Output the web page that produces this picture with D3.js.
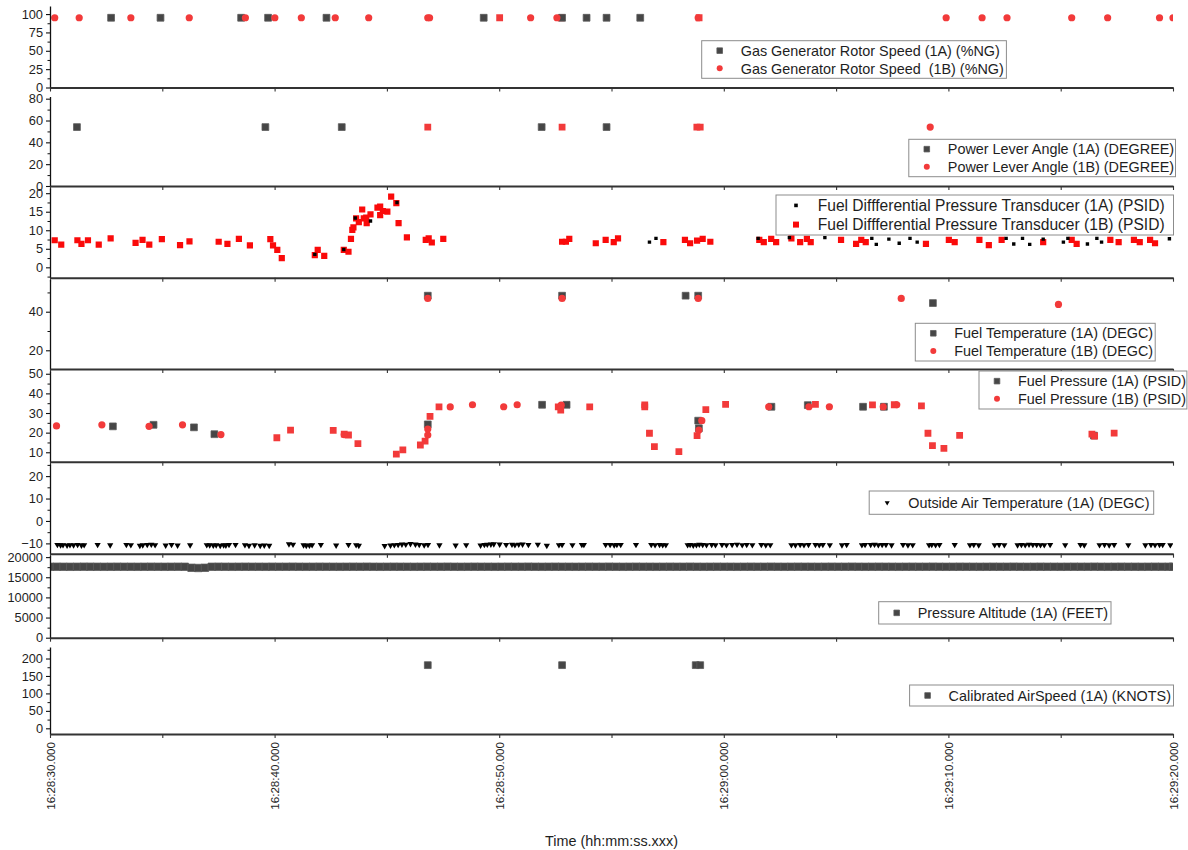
<!DOCTYPE html>
<html>
<head>
<meta charset="utf-8">
<script src="https://cdn.jsdelivr.net/npm/d3@7"></script>
<style>
  body { margin: 0; background: #fff; }
  svg text { font-family: "Liberation Sans", Arial, sans-serif; fill: #1e1e1e; }
</style>
</head>
<body>
<svg id="chart" width="1188" height="850"></svg>
<script>
// all times are seconds after 16:28:30.000
const ng1A = [[2.72,95],[4.92,95],[8.51,95],[9.71,95],[12.31,95],[19.31,95],[22.80,95],[23.89,95],[24.78,95],[26.28,95]];
const ng1B = [[0.21,95],[1.30,95],[3.60,95],[6.20,95],[8.70,95],[10.01,95],[11.19,95],[12.70,95],[14.19,95],[16.82,95],
  [16.90,95],[21.40,95],[22.57,95],[28.86,95],[39.90,95],[41.50,95],[42.61,95],[45.49,95],[47.09,95],[49.40,95],[50.0,95]];
const ng1BSquare = [[20.02,95],[22.76,95],[28.90,95]];

const pla1A = [[1.20,54],[9.59,54],[12.99,54],[21.89,54],[24.78,54]];
const pla1B = [[39.19,54]];
const pla1BSquare = [[16.82,54],[22.80,54],[28.80,54],[28.95,54]];

const fdp1A = [[11.79,3.5],[13.08,4.8],[13.59,13.3],[14.27,12.5],[15.45,17.5],[26.69,6.8],[26.98,7.8],[31.53,7.8],[32.92,8.0],[34.50,8.0],
  [36.59,7.8],[36.79,6.2],[37.35,7.6],[37.81,6.5],[38.29,7.8],[38.61,6.8],[42.57,7.8],[42.91,6.3],[43.30,7.8],[43.62,6.2],
  [44.22,7.6],[45.12,6.8],[45.32,7.8],[46.19,6.3],[46.61,7.8],[46.82,6.8],[49.84,7.7]];
const fdp1B = [[0.21,7.3],[0.50,6.1],[1.22,7.3],[1.40,6.3],[1.69,7.3],[2.17,6.1],[2.70,7.8],[3.81,6.6],[4.12,7.4],[4.42,6.1],
  [4.98,7.6],[5.79,6.0],[6.21,7.0],[7.51,6.9],[7.90,6.3],[8.41,7.7],[8.90,5.9],[9.81,7.6],[9.93,5.9],[10.12,4.7],
  [10.32,2.5],[11.79,3.3],[11.92,4.7],[12.21,3.1],[13.08,4.7],[13.29,4.2],[13.40,7.7],[13.46,10.1],[13.51,10.8],[13.63,13.2],
  [13.75,12.2],[13.90,15.6],[13.97,13.2],[14.08,13.4],[14.10,11.9],[14.27,14.3],[14.58,16.1],[14.70,14.1],[14.70,16.4],[14.82,15.2],
  [15.02,15.0],[15.19,19.1],[15.42,17.3],[15.52,11.9],[15.89,8.1],[16.73,7.4],[16.86,7.8],[17.00,6.7],[17.51,7.7],
  [22.80,6.9],[22.97,6.9],[23.12,7.7],[24.30,6.5],[24.74,7.4],[25.10,6.8],[25.29,7.8],[27.31,6.8],[28.27,7.4],[28.50,6.5],
  [28.81,7.2],[29.06,7.7],[29.40,6.9],[31.58,7.4],[31.78,6.8],[32.11,7.7],[32.33,6.8],[33.01,7.8],[33.40,6.8],[33.70,7.7],
  [33.87,6.8],[35.22,7.4],[35.89,6.3],[36.12,7.4],[36.32,6.8],[39.00,6.3],[40.02,7.4],[40.28,6.8],[41.38,7.4],[41.80,6.0],
  [42.37,7.4],[44.22,6.8],[45.49,7.4],[45.71,6.3],[47.21,7.4],[47.58,6.8],[48.26,7.4],[48.52,6.8],[48.98,7.4],[49.20,6.5]];

const ft1A = [[16.82,48.3],[22.80,48.3],[28.30,48.3],[28.86,48.3],[39.31,44.5]];
const ft1B = [[16.82,46.9],[22.80,46.9],[28.86,46.9],[37.90,46.9],[44.90,43.8]];

const fp1A = [[2.80,23.2],[4.61,24.0],[6.41,22.7],[7.32,19.2],[16.82,24.2],[21.91,34.2],[23.00,34.2],[28.86,26.1],[28.89,22.2],
  [32.12,33.2],[33.74,34.0],[36.20,33.2],[37.13,33.2],[46.48,18.5]];
const fp1B = [[0.29,23.4],[2.31,24.0],[4.41,23.2],[5.90,24.0],[7.61,19.0],[13.10,19.0],[16.82,18.8],[16.82,21.8],[17.82,33.1],[18.81,34.2],
  [20.20,33.2],[20.80,34.2],[22.76,34.0],[28.89,21.3],[29.02,26.1],[32.00,33.2],[33.79,33.2],[34.70,33.2],[37.10,33.2],[37.70,34.2]];
const fp1BSquare = [[10.10,17.4],[10.71,21.3],[12.61,21.2],[13.10,19.2],[13.29,18.8],[13.71,14.4],[15.42,9.1],[15.71,11.2],[16.49,13.7],[16.70,15.7],
  [16.92,28.3],[17.32,33.1],[22.63,33.1],[22.74,31.5],[24.03,33.1],[26.48,34.1],[26.48,33.1],[26.69,19.7],[26.91,12.9],[28.00,10.3],
  [28.81,18.5],[29.20,31.7],[30.08,34.4],[34.08,34.4],[36.62,34.1],[37.59,34.2],[38.80,33.6],[39.09,19.7],[39.29,13.4],[39.80,12.0],
  [40.50,18.6],[46.39,19.2],[46.51,18.3],[47.38,19.8]];

const oat1A = [[0.33,-10.6],[0.47,-10.8],[0.58,-10.7],[0.76,-10.9],[0.89,-10.7],[1.05,-10.8],[1.23,-10.6],[1.40,-10.9],[1.52,-10.7],[2.12,-10.6],
  [2.68,-10.8],[3.40,-10.6],[3.60,-10.7],[4.00,-11.0],[4.13,-10.8],[4.33,-10.6],[4.51,-10.5],[4.68,-10.7],[5.15,-10.9],[5.41,-10.6],
  [5.68,-10.9],[6.24,-10.8],[6.98,-10.7],[7.11,-10.8],[7.27,-10.9],[7.40,-10.8],[7.58,-11.0],[7.73,-10.8],[7.83,-10.9],[7.97,-10.6],
  [8.26,-10.6],[8.68,-10.7],[8.86,-11.0],[9.11,-10.8],[9.36,-11.0],[9.54,-10.9],[9.76,-11.0],[10.64,-10.3],[10.82,-10.5],[11.29,-10.8],
  [11.41,-11.0],[11.55,-10.9],[11.67,-10.7],[12.06,-10.6],[12.74,-10.9],[13.29,-10.6],[13.63,-10.7],[13.75,-11.0],[14.90,-11.1],[15.16,-10.9],
  [15.33,-10.7],[15.50,-10.6],[15.67,-10.4],[15.84,-10.5],[16.05,-10.2],[16.27,-10.4],[16.44,-10.6],[16.66,-10.8],[16.83,-10.6],[17.34,-10.8],
  [18.06,-10.9],[18.53,-10.7],[19.17,-10.9],[19.34,-10.6],[19.47,-10.5],[19.63,-10.4],[19.76,-10.3],[20.02,-10.4],[20.31,-10.6],[20.57,-10.5],
  [20.70,-10.7],[20.87,-10.5],[21.04,-10.4],[21.30,-10.6],[21.72,-10.5],[22.12,-11.0],[22.66,-10.7],[22.80,-10.6],[23.26,-10.7],[23.68,-10.6],
  [23.77,-10.6],[24.74,-10.6],[24.94,-10.6],[25.12,-10.8],[25.24,-10.6],[25.41,-10.6],[26.09,-10.6],[26.77,-10.6],[26.94,-10.7],[27.14,-10.6],
  [27.28,-10.7],[27.42,-10.7],[28.39,-10.7],[28.50,-10.6],[28.64,-10.9],[28.78,-10.7],[28.91,-10.5],[29.06,-10.6],[29.23,-10.7],[29.46,-10.6],
  [29.63,-10.7],[29.92,-10.6],[30.12,-10.7],[30.37,-10.6],[30.59,-10.5],[30.82,-10.7],[31.02,-10.6],[31.27,-10.7],[31.67,-10.6],[31.87,-10.8],
  [32.07,-10.7],[33.01,-10.7],[33.19,-10.8],[33.40,-10.6],[33.57,-10.7],[33.77,-10.6],[34.08,-10.6],[34.25,-10.7],[34.41,-10.6],[34.72,-10.7],
  [35.26,-10.8],[35.47,-10.6],[36.15,-10.7],[36.29,-10.6],[36.54,-10.6],[36.71,-10.5],[36.88,-10.7],[37.05,-10.6],[37.22,-10.6],[37.47,-10.8],
  [37.98,-10.6],[38.20,-10.8],[38.41,-10.7],[39.14,-10.7],[39.26,-10.6],[39.43,-10.7],[39.60,-10.6],[40.28,-10.6],[40.96,-10.7],[41.13,-10.6],
  [41.35,-10.8],[42.06,-10.7],[42.26,-10.6],[42.49,-10.7],[43.08,-10.8],[43.25,-10.6],[43.42,-10.7],[43.59,-10.5],[43.76,-10.6],[43.93,-10.6],
  [44.10,-10.7],[44.27,-10.7],[44.53,-10.6],[45.20,-10.7],[45.88,-10.6],[46.05,-10.8],[46.73,-10.7],[46.95,-10.6],[47.16,-10.8],[47.38,-10.6],
  [48.01,-10.7],[48.77,-10.8],[49.02,-10.6],[49.20,-10.7],[49.40,-10.6],[49.54,-10.6],[49.88,-10.7]];

const alt1A = [[0,17600],[0.3,17610],[0.6,17600],[0.9,17590],[1.2,17600],[1.5,17620],[1.8,17610],[2.1,17600],[2.4,17590],[2.7,17600],
  [3,17610],[3.3,17600],[3.6,17600],[3.9,17590],[4.2,17600],[4.5,17610],[4.8,17600],[5.1,17590],[5.4,17600],[5.7,17610],
  [6,17600],[6.3,17350],[6.6,17300],[6.9,17350],[7.2,17600],[7.5,17610],[7.8,17600],[8.1,17590],[8.4,17600],[8.7,17610],
  [9,17600],[9.3,17600],[9.6,17590],[9.9,17610],[10.2,17600],[10.5,17600],[10.8,17620],[11.1,17600],[11.4,17590],[11.7,17600],
  [12,17610],[12.3,17600],[12.6,17600],[12.9,17590],[13.2,17600],[13.5,17610],[13.8,17600],[14.1,17620],[14.4,17600],[14.7,17590],
  [15,17600],[15.3,17610],[15.6,17600],[15.9,17600],[16.2,17590],[16.5,17600],[16.8,17610],[17.1,17600],[17.4,17600],[17.7,17620],
  [18,17600],[18.3,17590],[18.6,17600],[18.9,17610],[19.2,17600],[19.5,17600],[19.8,17590],[20.1,17600],[20.4,17610],[20.7,17600],
  [21,17600],[21.3,17620],[21.6,17600],[21.9,17590],[22.2,17600],[22.5,17610],[22.8,17600],[23.1,17600],[23.4,17590],[23.7,17600],
  [24,17610],[24.3,17600],[24.6,17600],[24.9,17620],[25.2,17600],[25.5,17590],[25.8,17600],[26.1,17610],[26.4,17600],[26.7,17600],
  [27,17590],[27.3,17600],[27.6,17610],[27.9,17600],[28.2,17600],[28.5,17620],[28.8,17600],[29.1,17590],[29.4,17600],[29.7,17610],
  [30,17600],[30.3,17600],[30.6,17590],[30.9,17600],[31.2,17610],[31.5,17600],[31.8,17600],[32.1,17620],[32.4,17600],[32.7,17590],
  [33,17600],[33.3,17610],[33.6,17600],[33.9,17600],[34.2,17590],[34.5,17600],[34.8,17610],[35.1,17600],[35.4,17600],[35.7,17620],
  [36,17600],[36.3,17590],[36.6,17600],[36.9,17610],[37.2,17600],[37.5,17600],[37.8,17590],[38.1,17600],[38.4,17610],[38.7,17600],
  [39,17600],[39.3,17620],[39.6,17600],[39.9,17590],[40.2,17600],[40.5,17610],[40.8,17600],[41.1,17600],[41.4,17590],[41.7,17600],
  [42,17610],[42.3,17600],[42.6,17600],[42.9,17620],[43.2,17600],[43.5,17590],[43.8,17600],[44.1,17610],[44.4,17600],[44.7,17600],
  [45,17590],[45.3,17600],[45.6,17610],[45.9,17600],[46.2,17600],[46.5,17620],[46.8,17600],[47.1,17590],[47.4,17600],[47.7,17610],
  [48,17600],[48.3,17600],[48.6,17590],[48.9,17600],[49.2,17610],[49.5,17600],[49.8,17600],[50,17600]];

const cas1A = [[16.82,181],[22.80,181],[28.75,181],[28.95,181]];

const timeTicks = d3.range(0, 51, 5);

const GRAY = '#464646', RED = '#f23a3a', PURE_RED = '#fa0a0a';
const X0 = 50, X1 = 1173;

const x = d3.scaleLinear().domain([0, 50]).range([X0, X1]);
const clock = s => d3.timeFormat('%H:%M:%S.%L')(new Date(2020, 0, 1, 16, 28, 30 + s));

const sq = (fill, size) => ({ shape: d3.symbolSquare, size: size * size, fill, stroke: fill === GRAY ? '#5c5c5c' : 'none' });
const dot = (fill, r) => ({ shape: d3.symbolCircle, size: Math.PI * r * r, fill, stroke: 'none' });
const tri = size => ({ shape: d3.symbolTriangle, size, fill: '#000', stroke: 'none', flip: true });

const panels = [
  { top: 6, bottom: 87.5, lo: 0, hi: 111, ticks: [0, 25, 50, 75, 100], minor: 12.5,
    series: [[ng1BSquare, sq(RED, 6.8)], [ng1A, sq(GRAY, 6.8)], [ng1B, dot(RED, 3.6)]],
    legend: { x: 701.7, y: 40.7, w: 304.7, h: 37.6, font: 14.4, items: [
      ['Gas Generator Rotor Speed (1A) (%NG)', sq(GRAY, 5.6)], ['Gas Generator Rotor Speed  (1B) (%NG)', dot(RED, 3)]] } },
  { top: 96.5, bottom: 186, lo: 0, hi: 82, ticks: [0, 20, 40, 60, 80], minor: 10,
    series: [[pla1A, sq(GRAY, 6.8)], [pla1BSquare, sq(RED, 6.8)], [pla1B, dot(RED, 3.6)]],
    legend: { x: 908.8, y: 139.3, w: 266.7, h: 37.4, font: 14.4, items: [
      ['Power Lever Angle (1A) (DEGREE)', sq(GRAY, 5.6)], ['Power Lever Angle (1B) (DEGREE)', dot(RED, 3)]] } },
  { top: 188, bottom: 277.7, lo: -2.8, hi: 21.4, ticks: [0, 5, 10, 15, 20], minor: 2.5,
    series: [[fdp1B, sq(PURE_RED, 6.2)], [fdp1A, sq('#000', 3.4)]],
    legend: { x: 776, y: 195, w: 397.5, h: 40, font: 15.6, symX: 20, textX: 41.7, items: [
      ['Fuel Diffferential Pressure Transducer (1A) (PSID)', sq('#000', 3.6)], ['Fuel Diffferential Pressure Transducer (1B) (PSID)', sq(PURE_RED, 6)]] } },
  { top: 279.5, bottom: 369, lo: 10.3, hi: 56.7, ticks: [20, 40], minor: 10,
    series: [[ft1A, sq(GRAY, 6.8)], [ft1B, dot(RED, 3.6)]],
    legend: { x: 915.3, y: 323.3, w: 239.9, h: 37.7, font: 14.4, items: [
      ['Fuel Temperature (1A) (DEGC)', sq(GRAY, 5.6)], ['Fuel Temperature (1B) (DEGC)', dot(RED, 3)]] } },
  { top: 371, bottom: 461.7, lo: 5.2, hi: 51.4, ticks: [10, 20, 30, 40, 50], minor: 5,
    series: [[fp1A, sq(GRAY, 6.8)], [fp1BSquare, sq(RED, 6.8)], [fp1B, dot(RED, 3.6)]],
    legend: { x: 979, y: 371, w: 207.9, h: 38, font: 14.4, items: [
      ['Fuel Pressure (1A) (PSID)', sq(GRAY, 5.6)], ['Fuel Pressure (1B) (PSID)', dot(RED, 3)]] } },
  { top: 464, bottom: 553.7, lo: -14.6, hi: 25.4, ticks: [-10, 0, 10, 20], minor: 5,
    series: [[oat1A, tri(17)]],
    legend: { x: 869.2, y: 491, w: 284.5, h: 23.3, font: 14.4, items: [
      ['Outside Air Temperature (1A) (DEGC)', tri(11)]] } },
  { top: 555.5, bottom: 637.7, lo: 0, hi: 20400, ticks: [0, 5000, 10000, 15000, 20000], minor: 2500,
    series: [[alt1A, sq(GRAY, 7.4)]],
    legend: { x: 878.7, y: 601.7, w: 232.3, h: 22.3, font: 14.4, items: [
      ['Pressure Altitude (1A) (FEET)', sq(GRAY, 5.6)]] } },
  { top: 647, bottom: 734, lo: -16.3, hi: 233, ticks: [0, 50, 100, 150, 200], minor: 25,
    series: [[cas1A, sq(GRAY, 6.8)]],
    legend: { x: 909.6, y: 685, w: 263.9, h: 21, font: 14.4, items: [
      ['Calibrated AirSpeed (1A) (KNOTS)', sq(GRAY, 5.6)]] } }
];

const svg = d3.select('#chart');
const defs = svg.append('defs');

function drawMarker(sel, m) {
  sel.attr('d', d3.symbol(m.shape, m.size)())
    .attr('fill', m.fill)
    .attr('stroke', m.stroke)
    .attr('stroke-width', 0.8);
}

panels.forEach((p, i) => {
  const y = d3.scaleLinear().domain([p.lo, p.hi]).range([p.bottom, p.top]);
  const g = svg.append('g');

  defs.append('clipPath').attr('id', 'clip' + i)
    .append('rect').attr('x', X0).attr('y', p.top - 4).attr('width', X1 - X0).attr('height', p.bottom - p.top + 4);

  const plot = g.append('g').attr('clip-path', `url(#clip${i})`);
  p.series.forEach(([data, m]) => {
    plot.append('g').selectAll('path').data(data).join('path')
      .attr('transform', d => `translate(${x(d[0])},${y(d[1])})` + (m.flip ? ' rotate(180)' : ''))
      .call(drawMarker, m);
  });

  // minor y ticks
  const minors = d3.range(Math.ceil(p.lo / p.minor) * p.minor, p.hi, p.minor)
    .filter(v => !p.ticks.some(t => Math.abs(t - v) < 1e-6));
  g.append('g').attr('transform', `translate(${X0},0)`)
    .call(d3.axisLeft(y).tickValues(minors).tickSize(2.5).tickFormat(''))
    .call(a => a.select('.domain').remove())
    .call(a => a.selectAll('line').attr('stroke', '#111'));

  g.append('g').attr('transform', `translate(${X0},0)`)
    .call(d3.axisLeft(y).tickValues(p.ticks).tickSize(4).tickPadding(3).tickSizeOuter(0).tickFormat(d3.format('d')))
    .call(a => a.select('.domain').attr('stroke', '#111').attr('stroke-width', 1.3))
    .call(a => a.selectAll('line').attr('stroke', '#111').attr('stroke-width', 1.1))
    .call(a => a.selectAll('text').attr('font-size', 12.8).attr('fill', '#1e1e1e'));

  const last = i === panels.length - 1;
  const xa = g.append('g').attr('transform', `translate(0,${p.bottom})`)
    .call(d3.axisBottom(x).tickValues(timeTicks).tickSize(4).tickSizeOuter(0)
      .tickFormat(s => (last && s % 10 === 0) ? clock(s) : ''))
    .call(a => a.select('.domain').attr('stroke', '#333').attr('stroke-width', 1.9))
    .call(a => a.selectAll('line').attr('stroke', '#333').attr('stroke-width', 1.1));
  if (last) {
    xa.selectAll('text')
      .attr('font-size', 11.6).attr('fill', '#1e1e1e')
      .attr('text-anchor', 'end')
      .attr('transform', 'rotate(-90)')
      .attr('x', -8).attr('y', 0).attr('dy', '0.36em');
  }

  // legend
  const L = p.legend;
  const lg = g.append('g');
  lg.append('rect').attr('x', L.x).attr('y', L.y).attr('width', L.w).attr('height', L.h)
    .attr('fill', '#fff').attr('stroke', '#8c8c8c').attr('stroke-width', 1);
  const step = L.font * 1.23;
  const first = L.y + (L.h - (L.items.length - 1) * step) / 2;
  L.items.forEach(([label, m], k) => {
    const cy = first + k * step;
    lg.append('path').attr('transform', `translate(${L.x + (L.symX || 18)},${cy})` + (m.flip ? ' rotate(180)' : ''))
      .call(drawMarker, m);
    lg.append('text').attr('x', L.x + (L.textX || 39)).attr('y', cy).attr('dy', '0.36em')
      .attr('font-size', L.font).style('white-space', 'pre').text(label);
  });
});

svg.append('text').attr('x', (X0 + X1) / 2).attr('y', 846).attr('text-anchor', 'middle')
  .attr('font-size', 14.4).text('Time (hh:mm:ss.xxx)');
</script>
</body>
</html>
